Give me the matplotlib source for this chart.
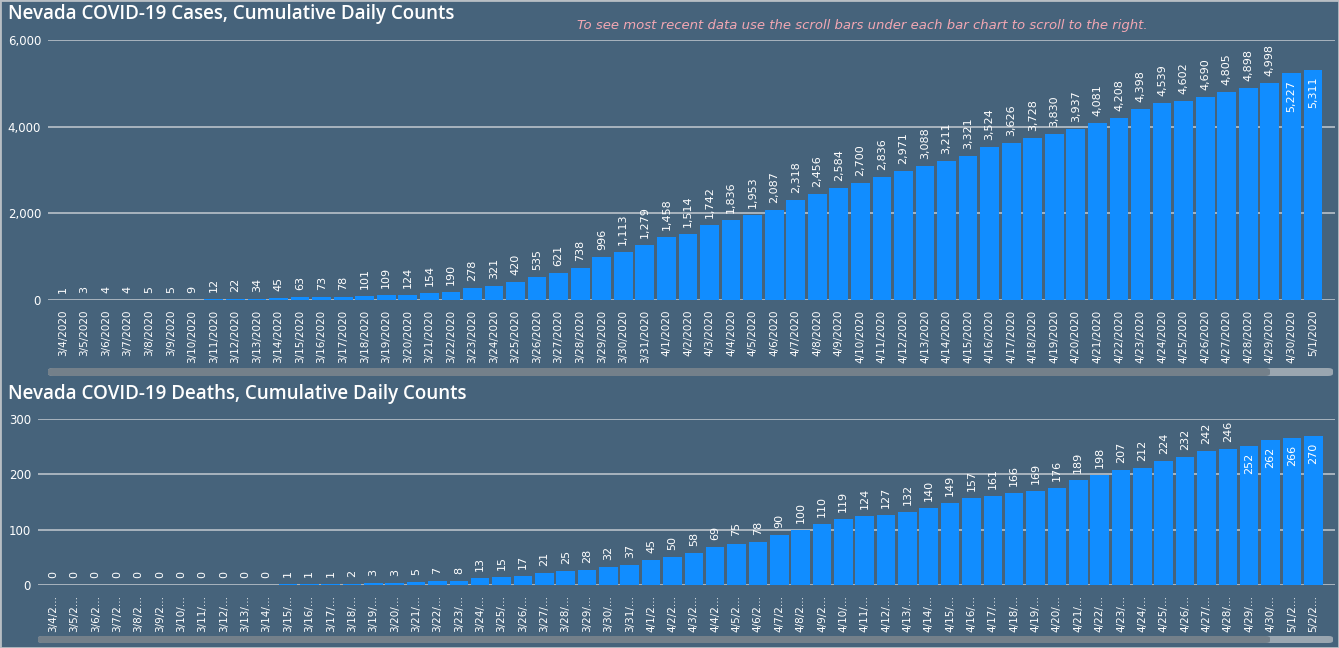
import matplotlib
matplotlib.use("Agg")
import matplotlib.pyplot as plt
from matplotlib.patches import FancyBboxPatch, Rectangle

cases_dates = ["3/4/2020","3/5/2020","3/6/2020","3/7/2020","3/8/2020","3/9/2020","3/10/2020","3/11/2020",
               "3/12/2020","3/13/2020","3/14/2020","3/15/2020","3/16/2020","3/17/2020","3/18/2020","3/19/2020",
               "3/20/2020","3/21/2020","3/22/2020","3/23/2020","3/24/2020","3/25/2020","3/26/2020","3/27/2020",
               "3/28/2020","3/29/2020","3/30/2020","3/31/2020","4/1/2020","4/2/2020","4/3/2020","4/4/2020",
               "4/5/2020","4/6/2020","4/7/2020","4/8/2020","4/9/2020","4/10/2020","4/11/2020","4/12/2020",
               "4/13/2020","4/14/2020","4/15/2020","4/16/2020","4/17/2020","4/18/2020","4/19/2020","4/20/2020",
               "4/21/2020","4/22/2020","4/23/2020","4/24/2020","4/25/2020","4/26/2020","4/27/2020","4/28/2020",
               "4/29/2020","4/30/2020","5/1/2020"]
cases = [1,3,4,4,5,5,9,12,22,34,45,63,73,78,101,109,124,154,190,278,321,420,535,621,738,996,1113,1279,
         1458,1514,1742,1836,1953,2087,2318,2456,2584,2700,2836,2971,3088,3211,3321,3524,3626,3728,3830,
         3937,4081,4208,4398,4539,4602,4690,4805,4898,4998,5227,5311]

deaths_dates = cases_dates + ["5/2/2020"]
deaths = [0,0,0,0,0,0,0,0,0,0,0,1,1,1,2,3,3,5,7,8,13,15,17,21,25,28,32,37,
          45,50,58,69,75,78,90,100,110,119,124,127,132,140,149,157,161,166,169,176,189,198,207,212,
          224,232,242,246,252,262,266,270]

cases_ticks = [0, 2000, 4000, 6000]
deaths_ticks = [0, 100, 200, 300]

BG = "#46637B"
BAR = "#118DFF"
GRID = "#C3CAD0"
TXT = "#FFFFFF"

W, H = 1339, 648
fig = plt.figure(figsize=(W/100, H/100), dpi=100, facecolor=BG)

def px_ax(left, right, top, bottom):
    ax = fig.add_axes([left/W, 1-bottom/H, (right-left)/W, (bottom-top)/H])
    return ax, bottom - top

def draw(ax, hpx, labels, vals, ymax, yticks, xl, xr, fmt, lab_fs):
    ax.set_facecolor(BG)
    x = list(range(len(vals)))
    ax.set_axisbelow(True)
    ax.yaxis.grid(True, color=GRID, linewidth=1.1)
    ax.bar(x, vals, width=0.87, color=BAR, zorder=3)
    ax.set_xlim(xl, xr)
    ax.set_ylim(0, ymax)
    ax.set_yticks(yticks)
    ax.set_yticklabels([fmt(v) for v in yticks], color=TXT, fontsize=8.5)
    ax.set_xticks(x)
    ax.set_xticklabels(labels, rotation=90, color=TXT, fontsize=7.5, va="top")
    ax.tick_params(length=0, pad=5)
    ax.tick_params(axis="x", pad=7)
    for s in ax.spines.values():
        s.set_visible(False)
    upx = ymax / hpx  # data units per pixel
    gap = 7 * upx
    for xi, v in zip(x, vals):
        txt = fmt(v)
        ndig = sum(c.isdigit() for c in txt)
        ncom = txt.count(",")
        need_px = 7 + 7.07 * ndig + 3.5 * ncom + 1
        if v + need_px * upx > ymax:
            ax.text(xi, v - gap, txt, rotation=90, ha="center", va="top",
                    color=TXT, fontsize=lab_fs, zorder=4)
        else:
            ax.text(xi, v + gap, txt, rotation=90, ha="center", va="bottom",
                    color=TXT, fontsize=lab_fs, zorder=4)

fmt = lambda v: f"{v:,}"

ax1, h1 = px_ax(48, 1335, 40, 300)
draw(ax1, h1, cases_dates, cases, 6000, cases_ticks, (48-63)/21.55, (1335-63)/21.55, fmt, 8)

short = [d[:5] + "..." for d in deaths_dates]
ax2, h2 = px_ax(38, 1335, 419, 585)
draw(ax2, h2, short, deaths, 300, deaths_ticks, (38-53)/21.36, (1335-53)/21.36, fmt, 8)

fig.text(8/W, 1-14/H, "Nevada COVID-19 Cases, Cumulative Daily Counts", color=TXT,
         fontsize=13.5, fontweight="semibold", va="center", ha="left", family="Open Sans")
fig.text(8/W, 1-394/H, "Nevada COVID-19 Deaths, Cumulative Daily Counts", color=TXT,
         fontsize=13.5, fontweight="semibold", va="center", ha="left", family="Open Sans")
fig.text(577/W, 1-26/H, "To see most recent data use the scroll bars under each bar chart to scroll to the right.",
         color="#F2A7B3", fontsize=9.5, style="italic", va="center", ha="left")

def scrollbar(x0, x1, xsplit, y0, y1):
    hh = (y1 - y0)/H
    fig.patches.append(FancyBboxPatch((x0/W, 1-y1/H), (x1-x0)/W, hh,
                       boxstyle=f"round,pad=0,rounding_size={hh/2*0.6}", transform=fig.transFigure,
                       facecolor="#9AA6B0", edgecolor="none"))
    fig.patches.append(FancyBboxPatch((x0/W, 1-y1/H), (xsplit-x0)/W, hh,
                       boxstyle=f"round,pad=0,rounding_size={hh/2*0.6}", transform=fig.transFigure,
                       facecolor="#74808A", edgecolor="none"))

scrollbar(48, 1333, 1270, 368, 376)
scrollbar(38, 1333, 1270, 636, 643)

fig.patches.append(Rectangle((0, 0), 1, 1, transform=fig.transFigure, facecolor="none",
                             edgecolor="#B8BEC4", linewidth=2))

fig.savefig("out.png", dpi=100, facecolor=BG)
